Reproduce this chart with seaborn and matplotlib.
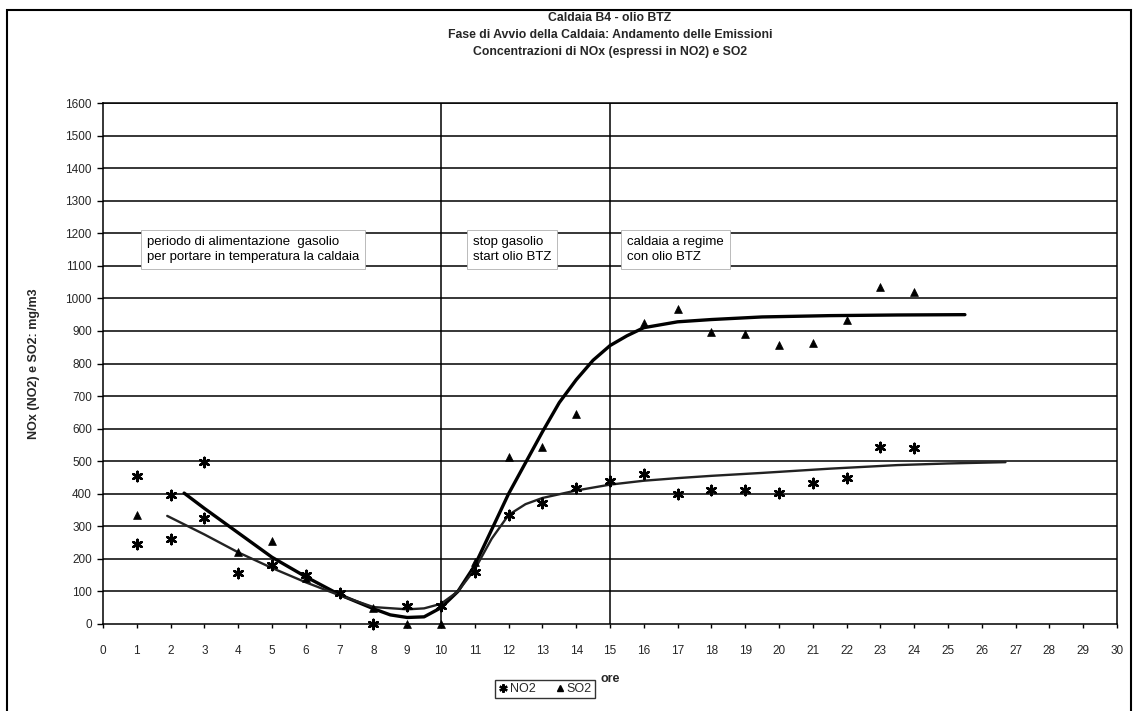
import numpy as np
import pandas as pd
import matplotlib
matplotlib.use("Agg")
import matplotlib.pyplot as plt
import seaborn as sns
from matplotlib.lines import Line2D
from matplotlib.patches import Rectangle

# ---------------- data ----------------
title_lines = [
    "Caldaia B4 - olio BTZ",
    "Fase di Avvio della Caldaia: Andamento delle Emissioni",
    "Concentrazioni di NOx (espressi in NO2) e SO2",
]
x_label = "ore"
y_label = "NOx (NO2) e SO2: mg/m3"
x_ticks = list(range(0, 31))
y_ticks = list(range(0, 1700, 100))
phase_bounds = [10, 15]
phase_notes = [
    "periodo di alimentazione  gasolio\nper portare in temperatura la caldaia",
    "stop gasolio\nstart olio BTZ",
    "caldaia a regime\ncon olio BTZ",
]
note_x = [1.3, 10.95, 15.5]
note_y = 1150

series_names = ["NO2", "SO2"]

no2_hours = [1, 1, 2, 2, 3, 3, 4, 5, 6, 7, 8, 9, 10, 11, 12, 13, 14, 15,
             16, 17, 18, 19, 20, 21, 22, 23, 24]
no2_values = [455, 245, 396, 262, 497, 326, 157, 182, 150, 95, 0, 55, 55, 160,
              335, 372, 418, 440, 462, 400, 412, 410, 402, 432, 447, 543, 540]

so2_hours = [1, 4, 5, 6, 8, 9, 10, 11, 12, 13, 14, 16, 17, 18, 19, 20, 21,
             22, 23, 24]
so2_values = [335, 221, 255, 140, 50, 0, 0, 190, 513, 543, 645, 924, 968, 898,
              892, 857, 863, 935, 1035, 1020]

no2_trend_hours = [1.9, 3, 4, 5, 6, 7, 8, 9, 9.5, 10, 10.5, 11, 11.5, 12, 12.5,
                   13, 14, 15, 16, 17, 18, 19.5, 21.5, 23.5, 25, 26.7]
no2_trend_values = [332, 275, 220, 172, 128, 88, 52, 45, 48, 62, 100, 168, 262,
                    335, 368, 387, 410, 428, 440, 448, 455, 464, 477, 488, 493, 497]

so2_trend_hours = [2.4, 3, 4, 5, 6, 7, 8, 8.5, 9, 9.5, 10, 10.5, 11, 11.5, 12,
                   12.5, 13, 13.5, 14, 14.5, 15, 15.5, 16, 17, 18, 19.5, 21.5,
                   23.5, 25.5]
so2_trend_values = [402, 355, 280, 205, 145, 90, 47, 28, 20, 22, 50, 100, 180,
                    290, 400, 495, 590, 680, 750, 810, 855, 885, 910, 928, 935,
                    943, 947, 949, 950]

# ---------------- style ----------------
sns.set_theme(style="white")
plt.rcParams["font.family"] = ["Liberation Sans", "DejaVu Sans"]

W, H = 1136, 711
fig = plt.figure(figsize=(W / 100, H / 100), dpi=100)
ax_l, ax_r, ax_t, ax_b = 103, 1117, 103, 624
ax = fig.add_axes([ax_l / W, 1 - ax_b / H, (ax_r - ax_l) / W, (ax_b - ax_t) / H])
ax.set_facecolor("white")

# grid lines
for yv in y_ticks[1:]:
    ax.axhline(yv, color="black", lw=1.1, zorder=1)
for xv in phase_bounds:
    ax.axvline(xv, color="black", lw=1.1, zorder=1)

# notes
for tx, txt in zip(note_x, phase_notes):
    ax.text(tx, note_y, txt, ha="left", va="center", fontsize=9.5,
            linespacing=1.3, color="black", zorder=3,
            bbox=dict(boxstyle="square,pad=0.45", facecolor="white",
                      edgecolor="#b0b0b0", lw=0.6))

# trend lines
sns.lineplot(x=so2_trend_hours, y=so2_trend_values, sort=False, estimator=None,
             color="black", lw=2.4, ax=ax, zorder=4)
sns.lineplot(x=no2_trend_hours, y=no2_trend_values, sort=False, estimator=None,
             color="#222222", lw=1.7, ax=ax, zorder=4)

# points
no2_marker = (6, 2, 0)
sns.scatterplot(x=no2_hours, y=no2_values, marker=no2_marker, s=45,
                color="black", linewidth=1.8, ax=ax, zorder=5, clip_on=False)
sns.scatterplot(x=so2_hours, y=so2_values, marker="^", s=32,
                color="black", edgecolor="black", linewidth=0.5, ax=ax,
                zorder=5, clip_on=False)

ax.set_xlim(0, 30)
ax.set_ylim(0, 1600)
ax.set_xticks(x_ticks)
ax.set_xticklabels([str(v) for v in x_ticks])
ax.set_yticks(y_ticks)
ax.set_yticklabels([str(v) for v in y_ticks])
ax.tick_params(axis="x", length=3, width=1, pad=12, labelsize=8.5, direction="out",
               bottom=True, color="black")
ax.tick_params(axis="y", length=4, width=1, pad=4, labelsize=8.5, direction="out",
               left=True, color="black")
for sp in ax.spines.values():
    sp.set_color("black")
    sp.set_linewidth(1.1)

ax.set_xlabel(x_label, fontsize=9, fontweight="bold")
ax.set_ylabel(y_label, fontsize=9, fontweight="bold")
ax.xaxis.set_label_coords(0.5, (ax_b - 673) / (ax_b - ax_t))
ax.yaxis.set_label_coords((40 - ax_l) / (ax_r - ax_l), 0.5)

# title
cx = ((ax_l + ax_r) / 2) / W
for line, yp in zip(title_lines, [18, 35, 52]):
    fig.text(cx, 1 - yp / H, line, ha="center", va="center", fontsize=8.8,
             fontweight="bold")

# legend
handles = [
    Line2D([], [], marker=no2_marker, linestyle="none", color="black",
           markersize=6, markeredgewidth=1.6),
    Line2D([], [], marker="^", linestyle="none", color="black", markersize=5),
]
leg = fig.legend(handles, series_names, loc="center",
                 bbox_to_anchor=(545 / W, 1 - 689 / H), ncol=2, fontsize=9,
                 frameon=True, fancybox=False, edgecolor="black",
                 handlelength=0.7, handletextpad=0.2, columnspacing=1.6,
                 borderpad=0.25)
leg.get_frame().set_linewidth(1.0)

# outer frame of the chart
fig.patches.append(Rectangle((7 / W, -0.01), (1131 - 7) / W, (H - 10) / H + 0.01,
                             transform=fig.transFigure, fill=False,
                             edgecolor="black", lw=1.5))

fig.savefig("out.png", dpi=100)
